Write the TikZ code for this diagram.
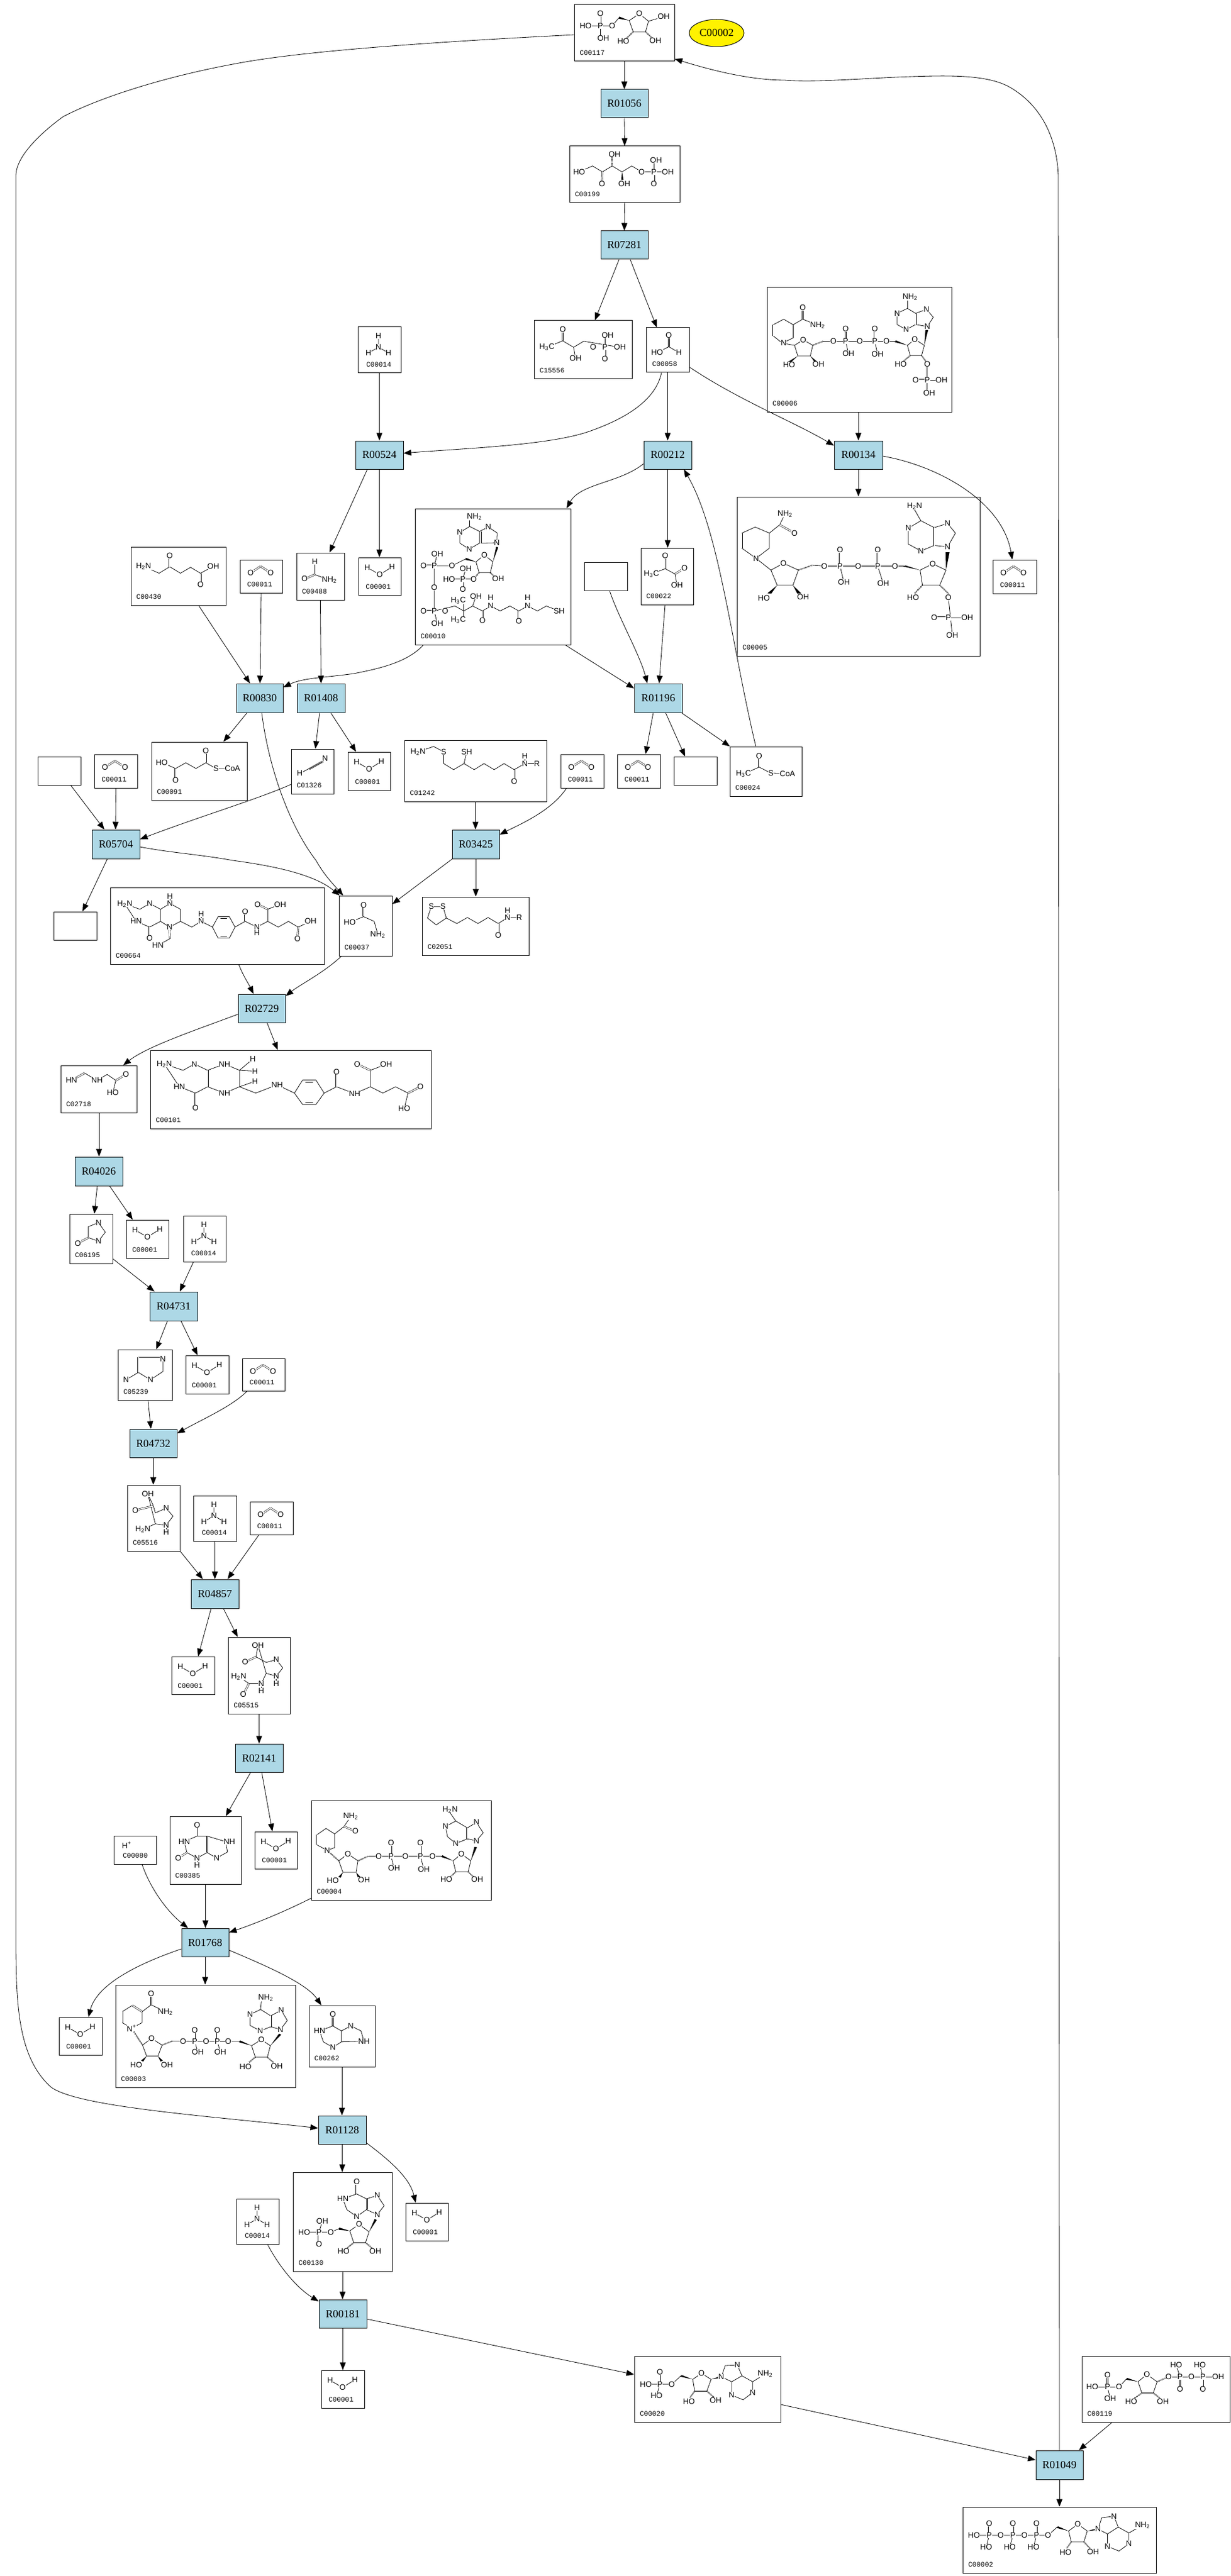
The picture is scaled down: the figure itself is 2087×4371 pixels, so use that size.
\documentclass[tikz,border=0pt]{standalone}
\usepackage{fontspec}
\setmainfont{Liberation Sans}
\newfontfamily\rxnfont{Liberation Serif}
\newfontfamily\lblfont{Liberation Mono}
\usetikzlibrary{arrows.meta,shapes.geometric}
\newcounter{atomc}
\tikzset{
  cbox/.style={draw,rectangle,inner sep=0pt,fill=white,line width=.5pt},
  rbox/.style={draw,rectangle,inner sep=0pt,fill=rxnblue,line width=.5pt,font=\rxnfont\fontsize{9.15}{10}\selectfont},
  lbl/.style={anchor=west,inner sep=0pt,font=\lblfont\fontsize{5.85}{6}\selectfont},
  atom/.style={inner sep=.15pt,fill=white,font=\fontsize{6.7}{7}\selectfont},
  bd/.style={line width=.4pt},
  db/.style={double,double distance=.9pt,line width=.3pt},
  hb/.style={line width=1.1pt,dash pattern=on .35pt off .55pt},
  ed/.style={line width=.42pt,-{Triangle[length=6.5pt,width=5pt]}},
  z7/.style={shift={(960,0)},xscale=.3333,yscale=.3333},
  z8/.style={shift={(900,480)},xscale=.4615,yscale=.3333},
  z9/.style={shift={(700,860)},xscale=.3333,yscale=.3333},
  z10/.style={shift={(220,925)},xscale=.4529,yscale=.3333},
  z11/.style={shift={(400,3686)},xscale=.3333,yscale=.3333},
  z12/.style={shift={(1076,3998)},xscale=.6472,yscale=.3333},
  z2/.style={shift={(0,730)},xscale=1.3316,yscale=.4655},
  z3/.style={shift={(0,1460)},xscale=.6378,yscale=.4655},
  z4/.style={shift={(0,2190)},xscale=.6378,yscale=.4655},
  z5/.style={shift={(0,2920)},xscale=.6378,yscale=.4655},
}
\definecolor{rxnblue}{HTML}{ADD8E6}
\def\ws{5}
\newcommand{\At}[3]{\stepcounter{atomc}\node[atom] (at\theatomc) at (#1,#2) {#3};}
\newcommand{\hs}[4]{\draw[hb] (#1,#2)--(#3,#4);}
\newcommand{\wg}[4]{%
  \pgfmathsetmacro\wgdx{#3-(#1)}\pgfmathsetmacro\wgdy{#4-(#2)}%
  \pgfmathsetmacro\wgl{veclen(\wgdx,\wgdy)}%
  \pgfmathsetmacro\wgx{-\wgdy/\wgl*\ws}\pgfmathsetmacro\wgy{\wgdx/\wgl*\ws}%
  \fill (#1,#2)--({#3+(\wgx)},{#4+(\wgy)})--({#3-(\wgx)},{#4-(\wgy)})--cycle;}
\newcommand{\cpd}[5]{%
  \pgfmathsetmacro\cpdw{#3-#1}\pgfmathsetmacro\cpdh{#4-#2}%
  \pgfmathsetmacro\cpdx{(#1+#3)/2}\pgfmathsetmacro\cpdy{(#2+#4)/2}%
  \node[cbox,minimum width=\cpdw*.5pt,minimum height=\cpdh*.5pt] (#5) at (\cpdx,\cpdy) {};}
% {pad}{printed label}{x0}{y1}{node name}
\newcommand{\clabel}[5]{%
  \pgfmathsetmacro\cpdx{#3+#1}\pgfmathsetmacro\cpdy{#4-14}%
  \node[lbl] (#5lab) at (\cpdx,\cpdy) {#2};}
% [pad]{node name}{x0}{y0}{x1}{y1}{printed label}
\newcommand{\comp}[7][9]{\cpd{#3}{#4}{#5}{#6}{#2}\clabel{#1}{#7}{#3}{#6}{#2}}
\newcommand{\rxn}[5]{%
  \pgfmathsetmacro\cpdw{#4-#2}\pgfmathsetmacro\cpdh{#5-#3}%
  \pgfmathsetmacro\cpdx{(#2+#4)/2}\pgfmathsetmacro\cpdy{(#3+#5)/2}%
  \node[rbox,minimum width=\cpdw*.5pt,minimum height=\cpdh*.5pt] (#1) at (\cpdx,\cpdy) {#1};}
\newcommand{\water}[2]{\begin{scope}[shift={(#1,#2)}]\draw[bd] (15,17)--(36,29)--(57,16);\At{15}{17}{H}\At{36}{29}{O}\At{57}{16}{H}\end{scope}}
\newcommand{\cotwo}[2]{\begin{scope}[shift={(#1,#2)}]\draw[db] (18,22)--(35,11);\draw[db] (35,11)--(52,22);\At{18}{22}{O}\At{52}{22}{O}\end{scope}}
\newcommand{\ammonia}[2]{\begin{scope}[shift={(#1,#2)}]\draw[bd] (35,15)--(35,34)--(18,44);\draw[bd] (35,34)--(52,44);\At{35}{15}{H}\At{35}{34}{N}\At{18}{44}{H}\At{52}{44}{H}\end{scope}}
\begin{document}
\begin{tikzpicture}[x=.5pt,y=-.5pt]
\useasboundingbox (0,0) rectangle (2087,4371);
\fill[white] (0,0) rectangle (2087,4371);
% ---------- boxes
\comp{C00117}{974}{8}{1144}{104}{C00117}
\node[draw,ellipse,fill=yellow,inner sep=0pt,line width=.5pt,minimum width=46.5pt,minimum height=23pt,font=\rxnfont\fontsize{9.15}{10}\selectfont] (Cyel) at (1215.5,56) {C00002};
\rxn{R01056}{1019}{152}{1099}{200}
\comp{C00199}{966}{248}{1153}{344}{C00199}
\rxn{R07281}{1019}{392}{1099}{440}
\comp{C15556}{906}{544}{1072}{643}{C15556}
\comp[10]{C00058}{1096}{556}{1169}{632}{C00058}
\comp[14]{C00014a}{607}{555}{680}{633}{C00014}
\comp{C00006}{1301}{488}{1614}{699}{C00006}
\rxn{R00524}{603}{748}{684}{796}
\rxn{R00212}{1092}{748}{1173}{796}
\rxn{R00134}{1415}{748}{1497}{796}
\comp{C00005}{1250}{843}{1662}{1113}{C00005}
\comp[12]{C00011a}{1684}{950}{1758}{1007}{C00011}
\comp{C00010}{704}{863}{968}{1094}{C00010}
\comp{C00022}{1087}{930}{1176}{1026}{C00022}
\node[cbox,minimum width=36.5pt,minimum height=24pt] (Ea) at (1027.5,978) {};
\comp{C00430}{222}{928}{383}{1027}{C00430}
\comp[12]{C00011b}{407}{950}{479}{1006}{C00011}
\comp{C00488}{503}{938}{584}{1018}{C00488}
\comp[12]{C00001a}{608}{946}{680}{1010}{C00001}
\rxn{R00830}{401}{1160}{480}{1209}
\rxn{R01408}{504}{1160}{585}{1209}
\rxn{R01196}{1076}{1160}{1157}{1209}
\comp{C00091}{257}{1259}{419}{1358}{C00091}
\comp{C01326}{494}{1271}{566}{1347}{C01326}
\comp[12]{C00001b}{590}{1276}{662}{1341}{C00001}
\comp{C01242}{686}{1256}{927}{1360}{C01242}
\comp[12]{C00011c}{951}{1280}{1024}{1337}{C00011}
\comp[12]{C00011d}{1047}{1280}{1120}{1337}{C00011}
\node[cbox,minimum width=36.5pt,minimum height=24pt] (Eb) at (1179.5,1308) {};
\comp{C00024}{1238}{1267}{1360}{1351}{C00024}
\node[cbox,minimum width=36.5pt,minimum height=24pt] (Ec) at (100.5,1308) {};
\comp[12]{C00011e}{160}{1280}{233}{1337}{C00011}
\rxn{R05704}{156}{1408}{237}{1457}
\rxn{R03425}{767}{1408}{847}{1457}
\node[cbox,minimum width=36.5pt,minimum height=24pt] (Ed) at (127.5,1571) {};
\comp{C00664}{187}{1506}{550}{1636}{C00664}
\comp{C00037}{575}{1520}{665}{1622}{C00037}
\comp{C02051}{716}{1522}{897}{1621}{C02051}
\rxn{R02729}{404}{1687}{484}{1735}
\comp{C02718}{103}{1808}{232}{1888}{C02718}
\comp{C00101}{255}{1782}{731}{1915}{C00101}
\rxn{R04026}{127}{1963}{208}{2012}
\comp{C06195}{118}{2060}{191}{2144}{C06195}
\comp[10]{C00001c}{214}{2070}{286}{2135}{C00001}
\comp[13]{C00014b}{311}{2063}{383}{2141}{C00014}
\rxn{R04731}{254}{2192}{335}{2241}
\comp{C05239}{200}{2290}{292}{2376}{C05239}
\comp[10]{C00001d}{315}{2300}{388}{2365}{C00001}
\comp[12]{C00011f}{411}{2305}{483}{2360}{C00011}
\rxn{R04732}{220}{2425}{300}{2473}
\comp{C05516}{216}{2520}{305}{2632}{C05516}
\comp[14]{C00014c}{328}{2538}{401}{2615}{C00014}
\comp[12]{C00011g}{424}{2548}{497}{2604}{C00011}
\rxn{R04857}{324}{2680}{405}{2729}
\comp[10]{C00001e}{291}{2811}{364}{2875}{C00001}
\comp{C05515}{387}{2778}{492}{2908}{C05515}
\rxn{R02141}{399}{2959}{480}{3007}
\comp{C00385}{288}{3082}{409}{3197}{C00385}
\comp[12]{C00001f}{432}{3108}{504}{3171}{C00001}
\comp{C00004}{528}{3055}{833}{3224}{C00004}
\comp[15]{C00080}{193}{3115}{265}{3163}{C00080}
\rxn{R01768}{308}{3272}{388}{3320}
\comp[12]{C00001g}{100}{3423}{173}{3487}{C00001}
\comp{C00003}{196}{3368}{501}{3542}{C00003}
\comp{C00262}{524}{3403}{636}{3507}{C00262}
\rxn{R01128}{540}{3590}{621}{3638}
\comp{C00130}{497}{3686}{665}{3854}{C00130}
\comp[14]{C00014d}{401}{3731}{473}{3808}{C00014}
\comp[12]{C00001h}{688}{3738}{760}{3802}{C00001}
\rxn{R00181}{541}{3902}{622}{3950}
\comp[12]{C00001i}{545}{4022}{618}{4086}{C00001}
\comp{C00020}{1076}{3998}{1324}{4110}{C00020}
\comp{C00119}{1835}{3998}{2086}{4110}{C00119}
\rxn{R01049}{1757}{4158}{1837}{4207}
\comp{C00002}{1633}{4254}{1961}{4366}{C00002}
% ---------- small repeated molecules
\ammonia{607}{555}\ammonia{311}{2063}\ammonia{328}{2538}\ammonia{401}{3731}
\water{608}{946}\water{590}{1276}\water{214}{2070}\water{315}{2300}\water{291}{2811}\water{432}{3108}\water{100}{3423}\water{688}{3738}\water{545}{4022}
\cotwo{1684}{950}\cotwo{407}{950}\cotwo{951}{1280}\cotwo{1047}{1280}\cotwo{160}{1280}\cotwo{411}{2305}\cotwo{424}{2548}
% ---------- C00117, C00199
\begin{scope}[z7]\def\ws{5.5}
\draw[bd] (100,132)--(235,132)--(270,90);\draw[db] (175,132)--(175,70);\draw[bd] (175,132)--(175,195);
\wg{322}{105}{270}{90}
\draw[bd] (322,105)--(373,70)--(420,108)--(405,162)--(342,162)--cycle;\draw[bd] (420,108)--(497,85);
\hs{342}{162}{295}{208}\hs{405}{162}{450}{205}
\At{100}{132}{HO}\At{175}{132}{P}\At{235}{132}{O}\At{175}{70}{O}\At{190}{195}{OH}\At{373}{70}{O}\At{497}{85}{OH}\At{292}{210}{HO}\At{455}{207}{OH}
\draw[bd] (67,875)--(135,845)--(185,875)--(235,845)--(285,875)--(335,845)--(385,875)--(518,875);\draw[db] (185,875)--(183,935);\draw[db] (447,875)--(447,935);\draw[bd] (447,875)--(447,815);
\hs{235}{845}{235}{800}\wg{285}{875}{287}{915}
\At{67}{875}{HO}\At{183}{935}{O}\At{247}{785}{OH}\At{297}{935}{OH}\At{385}{875}{O}\At{447}{875}{P}\At{458}{815}{OH}\At{518}{875}{OH}\At{447}{935}{O}
\end{scope}
% ---------- C15556, C00058, C00006
\begin{scope}[z8]\def\ws{5}
\draw[bd] (60,328)--(118,295)--(158,328)--(195,297)--(328,328);\draw[db] (118,295)--(118,238);\draw[bd] (158,328)--(165,385);\draw[bd] (273,328)--(273,268);\draw[db] (273,328)--(273,388);
\At{60}{328}{H\textsubscript{3}C}\At{118}{238}{O}\At{165}{385}{OH}\At{230}{328}{O}\At{273}{328}{P}\At{283}{268}{OH}\At{328}{328}{OH}\At{273}{388}{O}
\draw[db] (508,268)--(508,325);\draw[bd] (465,355)--(508,325)--(545,355);\At{508}{268}{O}\At{465}{355}{HO}\At{545}{355}{H}
% C00006
\draw[bd] (930,185)--(965,213)--(965,280)--(925,307)--(892,270)--(892,213)--cycle;\draw[db] (892,270)--(892,213);\draw[bd] (965,213)--(1000,185)--(1055,215);\draw[db] (1000,185)--(1000,125);
\draw[bd] (1002,290)--(970,318)--(982,372)--(1028,372)--(1037,318)--cycle;\draw[bd] (925,307)--(970,318);
\wg{982}{372}{950}{405}\wg{1028}{372}{1050}{405}\hs{1037}{318}{1075}{297}
\draw[bd] (1075,297)--(1340,297);\draw[db] (1158,297)--(1158,235);\draw[db] (1265,297)--(1265,235);\draw[bd] (1158,297)--(1168,360);\draw[bd] (1265,297)--(1275,362);
\wg{1385}{318}{1340}{297}
\draw[bd] (1412,287)--(1447,318)--(1437,370)--(1395,370)--(1385,318)--cycle;\hs{1395}{370}{1365}{405}\hs{1437}{370}{1458}{410}
\draw[bd] (1458,415)--(1458,560);\draw[db] (1415,495)--(1458,495);\draw[bd] (1458,495)--(1510,495);
\wg{1447}{318}{1456}{240}
\draw[bd] (1458,222)--(1480,175)--(1455,135)--(1415,155)--(1415,212)--cycle;\draw[bd] (1415,212)--(1380,238)--(1347,212)--(1347,155)--(1385,130)--(1415,155);\draw[db] (1415,155)--(1415,212);\draw[bd] (1385,130)--(1385,72);
\At{930}{307}{N}\At{1000}{125}{O}\At{1055}{215}{NH\textsubscript{2}}\At{1002}{290}{O}\At{950}{418}{HO}\At{1058}{415}{OH}\At{1113}{297}{O}\At{1158}{297}{P}\At{1158}{235}{O}\At{1168}{360}{OH}\At{1210}{297}{O}\At{1265}{297}{P}\At{1265}{235}{O}\At{1275}{362}{OH}\At{1308}{297}{O}\At{1412}{287}{O}\At{1360}{415}{HO}\At{1458}{415}{O}\At{1458}{495}{P}\At{1415}{495}{O}\At{1510}{495}{OH}\At{1465}{560}{OH}\At{1458}{222}{N}\At{1455}{135}{N}\At{1380}{238}{N}\At{1347}{155}{N}\At{1395}{72}{NH\textsubscript{2}}
\end{scope}
% ---------- C00010, C00022
\begin{scope}[z9]\def\ws{5.5}
\draw[bd] (290,100)--(290,65);
\draw[bd] (290,100)--(240,130)--(240,185)--(288,215)--(340,185)--(340,125)--cycle;\draw[bd] (340,125)--(385,103)--(430,133)--(428,183)--(340,185);\draw[db] (345,125)--(345,185);
\wg{408}{280}{430}{205}
\draw[bd] (365,245)--(408,280)--(395,335)--(338,335)--(322,280)--cycle;\wg{322}{280}{270}{265}\draw[bd] (270,265)--(200,300)--(110,300)--(110,530)--(215,505)--(260,530)--(305,505)--(355,530)--(397,505)--(445,530)--(495,505)--(540,530)--(585,505)--(635,530)--(680,505)--(745,530);
\draw[db] (55,300)--(110,300);\draw[db] (55,530)--(110,530);\draw[bd] (110,300)--(125,240);\draw[bd] (110,530)--(125,595);
\draw[bd] (260,530)--(260,490);\draw[bd] (260,530)--(260,560);\draw[bd] (305,505)--(322,455);\draw[db] (355,530)--(355,580);\draw[db] (540,530)--(540,582);
\hs{338}{335}{310}{368}\hs{395}{335}{420}{360}\draw[bd] (310,368)--(185,368);\draw[bd] (255,368)--(270,315);\draw[db] (255,368)--(255,420);
\At{315}{52}{NH\textsubscript{2}}\At{240}{130}{N}\At{288}{215}{N}\At{385}{103}{N}\At{428}{183}{N}\At{365}{245}{O}\At{200}{300}{O}\At{110}{300}{P}\At{55}{300}{O}\At{125}{240}{OH}\At{110}{412}{O}\At{110}{530}{P}\At{55}{530}{O}\At{125}{595}{OH}\At{165}{530}{O}\At{232}{477}{H\textsubscript{3}C}\At{232}{575}{H\textsubscript{3}C}\At{322}{455}{OH}\At{355}{580}{O}\At{397}{505}{N}\At{397}{462}{H}\At{540}{582}{O}\At{585}{505}{N}\At{585}{462}{H}\At{745}{530}{SH}\At{310}{368}{O}\At{255}{368}{P}\At{185}{368}{HO}\At{270}{315}{OH}\At{255}{420}{O}\At{435}{367}{OH}
\draw[db] (1285,250)--(1285,315);\draw[bd] (1215,342)--(1285,315)--(1335,342)--(1345,398);\draw[db] (1335,342)--(1383,312);
\At{1285}{250}{O}\At{1215}{342}{H\textsubscript{3}C}\At{1383}{312}{O}\At{1345}{398}{OH}
\end{scope}
% ---------- C00430, C00488, C00091, C01326, C01242
\begin{scope}[z10]\def\ws{5}
\draw[bd] (52,108)--(110,143)--(150,110)--(190,143)--(228,113)--(265,143)--(313,108);\draw[db] (150,110)--(150,55);\draw[db] (265,143)--(265,202);
\At{52}{108}{H\textsubscript{2}N}\At{150}{55}{O}\At{313}{108}{OH}\At{265}{202}{O}
\draw[bd] (693,85)--(693,150)--(748,177);\draw[db] (693,150)--(655,172);\At{693}{85}{H}\At{655}{172}{O}\At{748}{177}{NH\textsubscript{2}}
\draw[bd] (120,1107)--(172,1137)--(210,1108)--(248,1137)--(285,1108)--(323,1137)--(385,1137);\draw[db] (172,1137)--(172,1197);\draw[db] (285,1108)--(285,1048);
\At{120}{1107}{HO}\At{172}{1197}{O}\At{285}{1048}{O}\At{323}{1137}{S}\At{385}{1137}{CoA}
\draw[bd] (637,1162)--(680,1132);\draw[db] (672,1140)--(725,1100);\draw[bd] (672,1140)--(725,1100);
\At{637}{1162}{H}\At{732}{1087}{N}
\draw[bd] (1080,1052)--(1138,1025)--(1176,1052)--(1176,1112)--(1213,1143)--(1252,1112)--(1290,1143)--(1327,1112)--(1365,1143)--(1402,1112)--(1440,1143)--(1480,1112)--(1525,1112);\draw[bd] (1252,1112)--(1262,1052);\draw[db] (1440,1143)--(1440,1202);\draw[bd] (1480,1112)--(1480,1075);
\At{1080}{1052}{H\textsubscript{2}N}\At{1176}{1052}{S}\At{1262}{1052}{SH}\At{1440}{1202}{O}\At{1480}{1112}{N}\At{1480}{1075}{H}\At{1525}{1112}{R}
\end{scope}
% ---------- C00005, C00024
\begin{scope}[z2]\def\ws{2.5}
\draw[bd] (962,353)--(980,375)--(980,430)--(963,467)--(945,430)--(945,375)--cycle;\draw[db] (945,375)--(945,430);\draw[bd] (980,375)--(993,345)--(1000,305);\draw[db] (993,345)--(1012,375);
\draw[bd] (998,485)--(982,510)--(990,565)--(1010,565)--(1017,510)--cycle;\draw[bd] (963,467)--(982,510);\wg{990}{565}{980}{595}\wg{1010}{565}{1018}{595}\hs{1017}{510}{1035}{492}
\draw[bd] (1035,492)--(1050,495)--(1152,495);\draw[db] (1070,495)--(1070,435);\draw[db] (1118,495)--(1118,435);\draw[bd] (1070,495)--(1075,555);\draw[bd] (1118,495)--(1125,558);\wg{1172}{510}{1152}{495}
\draw[bd] (1188,487)--(1205,510)--(1197,565)--(1175,565)--(1172,510)--cycle;\hs{1175}{565}{1165}{595}\hs{1197}{565}{1208}{595}
\draw[bd] (1208,610)--(1213,747);\draw[db] (1190,683)--(1208,683);\draw[bd] (1208,683)--(1232,683);\wg{1205}{510}{1207}{445}
\draw[bd] (1207,425)--(1217,375)--(1207,340)--(1190,355)--(1190,420)--cycle;\draw[bd] (1190,420)--(1173,440)--(1157,415)--(1157,357)--(1173,330)--(1190,355);\draw[db] (1190,355)--(1190,420);\draw[bd] (1173,330)--(1165,290);
\At{963}{467}{N}\At{1000}{305}{NH\textsubscript{2}}\At{1012}{375}{O}\At{998}{485}{O}\At{973}{612}{HO}\At{1023}{608}{OH}\At{1050}{495}{O}\At{1070}{495}{P}\At{1070}{435}{O}\At{1075}{555}{OH}\At{1093}{495}{O}\At{1118}{495}{P}\At{1118}{435}{O}\At{1125}{558}{OH}\At{1140}{495}{O}\At{1188}{487}{O}\At{1163}{610}{HO}\At{1208}{610}{O}\At{1208}{683}{P}\At{1190}{683}{O}\At{1232}{683}{OH}\At{1213}{747}{OH}\At{1207}{425}{N}\At{1207}{340}{N}\At{1173}{440}{N}\At{1157}{357}{N}\At{1165}{277}{H\textsubscript{2}N}
\draw[db] (967,1187)--(967,1228);\draw[bd] (948,1252)--(967,1228)--(982,1250)--(1003,1252);
\At{967}{1187}{O}\At{947}{1252}{H\textsubscript{3}C}\At{982}{1250}{S}\At{1003}{1252}{CoA}
\end{scope}
% ---------- C00664, C00037, C02051, C02718, C00101, C06195
\begin{scope}[z3]\def\ws{3.5}
\draw[bd] (332,158)--(372,178)--(398,157)--(427,178)--(427,222)--(398,243)--(362,222)--cycle;
\draw[bd] (427,178)--(452,157)--(480,178)--(480,222)--(451,243)--(427,222);\draw[bd] (452,157)--(452,130);\draw[db] (451,243)--(452,285);\draw[bd] (452,285)--(420,310);
\draw[bd] (480,222)--(510,243)--(535,222)--(565,243);\draw[bd] (535,222)--(535,195);
\draw[bd] (565,243)--(580,205)--(610,205)--(625,243)--(610,283)--(580,283)--cycle;\draw[bd] (587,212)--(603,212);\draw[bd] (587,276)--(603,276);
\draw[bd] (625,243)--(652,222)--(683,243)--(712,222)--(740,243)--(767,222)--(793,243)--(826,222);\draw[db] (652,222)--(652,187);\draw[bd] (683,243)--(683,265);\draw[bd] (712,222)--(712,178)--(745,160);\draw[db] (712,178)--(685,160);\draw[db] (793,243)--(791,285);\draw[db] (398,243)--(398,283);
\At{332}{158}{H\textsubscript{2}N}\At{398}{157}{N}\At{362}{222}{HN}\At{398}{283}{O}\At{452}{157}{N}\At{452}{130}{H}\At{451}{243}{N}\At{420}{310}{HN}\At{535}{222}{N}\At{535}{195}{H}\At{652}{187}{O}\At{683}{243}{N}\At{683}{265}{H}\At{685}{160}{O}\At{745}{160}{OH}\At{826}{222}{OH}\At{791}{285}{O}
\draw[db] (967,162)--(967,205);\draw[bd] (930,225)--(967,205)--(995,222)--(1005,270);\At{967}{162}{O}\At{930}{225}{HO}\At{1005}{270}{NH\textsubscript{2}}
\draw[bd] (1147,168)--(1178,168)--(1187,210)--(1160,235)--(1137,210)--cycle;\draw[bd] (1187,210)--(1215,230)--(1243,208)--(1271,230)--(1298,208)--(1325,230)--(1350,208)--(1381,208);\draw[db] (1325,230)--(1325,272);\draw[bd] (1350,208)--(1350,182);
\At{1147}{168}{S}\At{1178}{168}{S}\At{1325}{272}{O}\At{1350}{208}{N}\At{1350}{182}{H}\At{1381}{208}{R}
\draw[db] (190,802)--(225,775);\draw[bd] (225,775)--(258,802)--(285,780)--(308,802)--(300,846);\draw[db] (308,802)--(335,780);
\At{190}{802}{HN}\At{258}{802}{NH}\At{335}{780}{O}\At{300}{846}{HO}
% C00101
\draw[bd] (437,742)--(487,765)--(517,742)--(552,765)--(552,825)--(520,848)--(477,825)--cycle;\draw[db] (552,765)--(552,825);\draw[db] (520,848)--(520,903);
\draw[bd] (552,765)--(597,742)--(637,765)--(637,825)--(597,848)--(552,825);\draw[bd] (637,765)--(672,724);\draw[bd] (637,765)--(678,768);\draw[bd] (637,825)--(678,805);
\draw[bd] (637,825)--(680,848)--(737,818)--(783,848);
\draw[bd] (783,848)--(805,800)--(840,800)--(862,848)--(840,890)--(805,890)--cycle;\draw[bd] (812,808)--(833,808);\draw[bd] (812,882)--(833,882);
\draw[bd] (862,848)--(895,825)--(943,850)--(985,825)--(1018,848)--(1052,825)--(1085,848)--(1075,905);\draw[db] (895,825)--(895,770);\draw[bd] (985,825)--(985,765)--(1027,743);\draw[db] (985,765)--(950,743);\draw[db] (1085,848)--(1118,825);
\At{437}{742}{H\textsubscript{2}N}\At{517}{742}{N}\At{477}{825}{HN}\At{520}{903}{O}\At{597}{742}{NH}\At{597}{848}{NH}\At{672}{724}{H}\At{678}{768}{H}\At{678}{805}{H}\At{737}{818}{NH}\At{895}{770}{O}\At{943}{850}{NH}\At{950}{743}{O}\At{1027}{743}{OH}\At{1118}{825}{O}\At{1075}{905}{HO}
% C06195
\draw[bd] (235,1335)--(262,1320)--(280,1355)--(262,1388)--(235,1375)--cycle;\draw[db] (235,1375)--(207,1395);
\At{262}{1320}{N}\At{262}{1388}{N}\At{207}{1395}{O}
\end{scope}
% ---------- C05239, C05516, C05515
\begin{scope}[z4]\def\ws{3.5}
\draw[bd] (368,243)--(433,243)--(433,295)--(400,325)--(368,298)--cycle;\draw[db] (368,243)--(368,298);\draw[bd] (368,298)--(335,325);
\At{433}{248}{N}\At{400}{325}{N}\At{335}{325}{N}
\draw[bd] (393,740)--(408,785)--(413,810)--(442,793)--(460,822)--(442,855)--(413,850)--cycle;\draw[db] (408,785)--(360,800);\draw[bd] (413,850)--(380,870);\draw[bd] (442,855)--(442,880);
\At{393}{740}{OH}\At{360}{800}{O}\At{442}{793}{N}\At{442}{855}{N}\At{442}{880}{H}\At{380}{870}{H\textsubscript{2}N}
\draw[bd] (686,1292)--(681,1335)--(708,1355)--(735,1345)--(752,1375)--(735,1405)--(708,1395)--cycle;\draw[db] (681,1335)--(652,1353);\draw[bd] (708,1395)--(695,1432)--(662,1432)--(635,1407);\draw[db] (662,1432)--(647,1472);\draw[bd] (735,1405)--(735,1432);\draw[bd] (695,1432)--(695,1458);
\At{686}{1292}{OH}\At{652}{1353}{O}\At{735}{1345}{N}\At{735}{1405}{N}\At{735}{1432}{H}\At{695}{1432}{N}\At{695}{1458}{H}\At{647}{1472}{O}\At{635}{1407}{H\textsubscript{2}N}
\end{scope}
% ---------- C00385, C00080, C00004, C00003, C00262
\begin{scope}[z5]\def\ws{3.5}
\draw[db] (524,380)--(524,420);\draw[bd] (524,420)--(490,440)--(497,480)--(524,500)--(551,480)--(551,420)--cycle;\draw[db] (551,420)--(551,480);\draw[db] (497,480)--(474,500);\draw[bd] (551,420)--(600,440)--(605,478)--(576,500)--(551,480);\draw[bd] (524,500)--(524,527);
\At{524}{380}{O}\At{490}{440}{HN}\At{474}{500}{O}\At{524}{500}{N}\At{524}{527}{H}\At{610}{440}{NH}\At{576}{500}{N}
\At{337}{453}{H\textsuperscript{+}}
% C00004
\draw[bd] (890,412)--(890,462)--(870,472)--(843,452)--(843,415)--(867,392)--cycle;\draw[db] (843,415)--(843,452);\draw[bd] (890,412)--(915,385)--(933,348);\draw[db] (915,385)--(945,402);
\draw[bd] (925,485)--(901,510)--(912,552)--(947,552)--(952,510)--cycle;\hs{870}{472}{901}{510}\wg{912}{552}{903}{570}\wg{947}{552}{955}{570}\hs{952}{510}{980}{493}
\draw[bd] (980,493)--(1175,493);\draw[db] (1040,493)--(1040,445);\draw[db] (1118,493)--(1118,445);\draw[bd] (1040,493)--(1048,537);\draw[bd] (1118,493)--(1127,540);\wg{1205}{510}{1175}{493}
\draw[bd] (1227,485)--(1252,510)--(1245,550)--(1212,550)--(1205,510)--cycle;\hs{1212}{550}{1197}{570}\hs{1245}{550}{1260}{570}\wg{1252}{510}{1265}{460}
\draw[bd] (1267,437)--(1285,408)--(1267,370)--(1243,390)--(1243,430)--cycle;\draw[bd] (1243,430)--(1212,447)--(1190,422)--(1185,385)--(1212,365)--(1243,390);\draw[db] (1243,390)--(1243,430);\draw[bd] (1212,365)--(1197,335);
\At{870}{472}{N}\At{933}{348}{NH\textsubscript{2}}\At{945}{402}{O}\At{925}{485}{O}\At{885}{582}{HO}\At{968}{580}{OH}\At{1007}{493}{O}\At{1040}{493}{P}\At{1040}{445}{O}\At{1048}{537}{OH}\At{1078}{493}{O}\At{1118}{493}{P}\At{1118}{445}{O}\At{1127}{540}{OH}\At{1150}{493}{O}\At{1227}{485}{O}\At{1187}{578}{HO}\At{1269}{578}{OH}\At{1267}{437}{N}\At{1267}{370}{N}\At{1212}{447}{N}\At{1185}{385}{N}\At{1197}{323}{H\textsubscript{2}N}
% C00003
\draw[bd] (350,1120)--(325,1100)--(325,1060)--(352,1037)--(378,1060)--(378,1100)--cycle;\draw[db] (325,1100)--(325,1060);\draw[db] (352,1037)--(378,1060);\draw[bd] (378,1060)--(402,1035)--(440,1060);\draw[db] (402,1035)--(402,995);
\draw[bd] (403,1157)--(379,1182)--(390,1222)--(420,1222)--(431,1182)--cycle;\hs{350}{1120}{379}{1182}\wg{390}{1222}{378}{1240}\wg{420}{1222}{430}{1240}\hs{431}{1182}{458}{1167}
\draw[bd] (458,1167)--(637,1168);\draw[db] (518,1168)--(518,1128);\draw[db] (578,1168)--(578,1128);\draw[bd] (518,1168)--(526,1208);\draw[bd] (578,1168)--(586,1208);\wg{669}{1184}{637}{1168}
\draw[bd] (695,1162)--(719,1184)--(711,1226)--(679,1226)--(669,1184)--cycle;\hs{679}{1226}{662}{1245}\hs{711}{1226}{727}{1245}\wg{719}{1184}{745}{1142}
\draw[bd] (746,1125)--(764,1092)--(748,1055)--(720,1075)--(720,1115)--cycle;\draw[bd] (720,1115)--(692,1130)--(665,1110)--(665,1070)--(693,1052)--(720,1075);\draw[db] (720,1075)--(720,1115);\draw[bd] (693,1052)--(695,1022);
\At{350}{1120}{N\textsuperscript{+}}\At{402}{995}{O}\At{440}{1060}{NH\textsubscript{2}}\At{403}{1157}{O}\At{362}{1254}{HO}\At{444}{1254}{OH}\At{487}{1168}{O}\At{518}{1168}{P}\At{518}{1128}{O}\At{526}{1208}{OH}\At{548}{1168}{O}\At{578}{1168}{P}\At{578}{1128}{O}\At{586}{1208}{OH}\At{607}{1168}{O}\At{695}{1162}{O}\At{653}{1260}{HO}\At{736}{1258}{OH}\At{746}{1125}{N}\At{748}{1055}{N}\At{692}{1130}{N}\At{665}{1070}{N}\At{707}{1010}{NH\textsubscript{2}}
% C00262
\draw[db] (885,1070)--(885,1112);\draw[bd] (885,1112)--(850,1130)--(860,1170)--(885,1190)--(908,1170)--(908,1130)--cycle;\draw[bd] (908,1130)--(933,1112)--(960,1130)--(968,1168)--(908,1170);
\At{885}{1070}{O}\At{850}{1130}{HN}\At{885}{1190}{N}\At{933}{1112}{N}\At{968}{1168}{NH}
\end{scope}
% ---------- C00130
\begin{scope}[z11]\def\ws{6}
\draw[db] (615,48)--(615,110);\draw[bd] (615,110)--(545,135)--(565,190)--(615,225)--(665,190)--(665,135)--cycle;\draw[db] (675,135)--(675,190);\draw[bd] (665,135)--(720,118)--(755,170)--(720,215)--(665,190);
\wg{678}{303}{712}{240}
\draw[bd] (627,265)--(580,298)--(600,358)--(660,358)--(678,303)--cycle;\hs{600}{358}{555}{395}\hs{660}{358}{700}{392}\wg{580}{298}{525}{287}
\draw[bd] (525,287)--(483,305)--(348,305);\draw[bd] (423,305)--(440,250);\draw[db] (423,305)--(423,365);
\At{615}{48}{O}\At{545}{135}{HN}\At{615}{225}{N}\At{720}{118}{N}\At{720}{215}{N}\At{627}{265}{O}\At{548}{402}{HO}\At{710}{402}{OH}\At{483}{305}{O}\At{423}{305}{P}\At{348}{305}{HO}\At{440}{250}{OH}\At{423}{365}{O}
\end{scope}
% ---------- C00020, C00119, C00002
\begin{scope}[z12]\def\ws{4.5}
\draw[bd] (30,143)--(98,143)--(122,100);\draw[db] (67,143)--(67,80);\draw[bd] (67,143)--(58,202);\wg{153}{118}{122}{100}
\draw[bd] (176,87)--(201,118)--(190,178)--(158,178)--(153,118)--cycle;\hs{158}{178}{145}{212}\hs{190}{178}{208}{208}\wg{201}{118}{228}{105}
\draw[bd] (228,105)--(238,48)--(270,45)--(282,100)--(255,130)--cycle;\draw[bd] (255,130)--(255,198)--(285,222)--(310,185)--(310,130)--(282,100);\draw[bd] (310,130)--(343,90);
\At{30}{143}{HO}\At{67}{143}{P}\At{67}{80}{O}\At{58}{202}{HO}\At{98}{143}{O}\At{176}{87}{O}\At{143}{232}{HO}\At{213}{225}{OH}\At{228}{105}{N}\At{270}{45}{N}\At{255}{198}{N}\At{310}{185}{N}\At{343}{90}{NH\textsubscript{2}}
% C00119
\draw[bd] (1200,157)--(1270,157)--(1290,115);\draw[db] (1240,157)--(1240,95);\draw[bd] (1240,157)--(1247,215);\wg{1320}{130}{1290}{115}
\draw[bd] (1343,93)--(1370,130)--(1360,187)--(1330,187)--(1320,130)--cycle;\hs{1330}{187}{1310}{215}\hs{1360}{187}{1378}{215}\hs{1370}{130}{1400}{105}
\draw[bd] (1400,105)--(1530,105);\draw[bd] (1430,105)--(1420,45);\draw[db] (1430,105)--(1430,167);\draw[bd] (1490,105)--(1482,45);\draw[db] (1490,105)--(1490,167);
\At{1200}{157}{HO}\At{1240}{157}{P}\At{1240}{95}{O}\At{1247}{215}{OH}\At{1270}{157}{O}\At{1343}{93}{O}\At{1302}{232}{HO}\At{1385}{232}{OH}\At{1400}{105}{O}\At{1430}{105}{P}\At{1420}{45}{HO}\At{1430}{167}{O}\At{1460}{105}{O}\At{1490}{105}{P}\At{1482}{45}{HO}\At{1490}{167}{O}\At{1530}{105}{OH}
% C00002
\draw[bd] (890,912)--(1084,912)--(1108,870);\draw[db] (930,912)--(930,852);\draw[db] (992,912)--(992,852);\draw[db] (1054,912)--(1054,852);\draw[bd] (930,912)--(922,972);\draw[bd] (992,912)--(984,972);\draw[bd] (1054,912)--(1046,972);\wg{1138}{890}{1108}{870}
\draw[bd] (1162,855)--(1187,890)--(1178,945)--(1145,945)--(1138,890)--cycle;\hs{1145}{945}{1132}{980}\hs{1178}{945}{1195}{980}\wg{1187}{890}{1215}{880}
\draw[bd] (1215,880)--(1225,822)--(1257,815)--(1268,870)--(1240,905)--cycle;\draw[bd] (1240,905)--(1240,968)--(1270,992)--(1296,955)--(1296,900)--(1268,870);\draw[bd] (1296,900)--(1332,860);
\At{890}{912}{HO}\At{930}{912}{P}\At{930}{852}{O}\At{922}{972}{HO}\At{960}{912}{O}\At{992}{912}{P}\At{992}{852}{O}\At{984}{972}{HO}\At{1022}{912}{O}\At{1054}{912}{P}\At{1054}{852}{O}\At{1046}{972}{HO}\At{1084}{912}{O}\At{1162}{855}{O}\At{1130}{1000}{HO}\At{1202}{997}{OH}\At{1215}{880}{N}\At{1257}{815}{N}\At{1240}{968}{N}\At{1296}{955}{N}\At{1332}{860}{NH\textsubscript{2}}
\end{scope}
% ---------- connectors
\draw[ed] (C00117.south) -- (R01056.north);
\draw[ed] (R01056.south) -- (C00199.north);
\draw[ed] (C00199.south) -- (R07281.north);
\draw[ed] (R07281.south -| 1050,0) -- (C15556.north -| 1009,0);
\draw[ed] (R07281.south -| 1069,0) -- (C00058.north -| 1114,0);
\draw[ed] (C00058.south -| 1122,0) .. controls (1112,680) and (1060,710) .. (1005,730) .. controls (940,755) and (800,760) .. (R00524.east |- 0,769);
\draw[ed] (C00058.south) -- (R00212.north);
\draw[ed] (C00058.east |- 0,623) .. controls (1255,680) and (1345,715) .. (R00134.west |- 0,756);
\draw[ed] (C00014a.south) -- (R00524.north);
\draw[ed] (C00006.south -| R00134.north) -- (R00134.north);
\draw[ed] (R00134.south) -- (C00005.north -| R00134.south);
\draw[ed] (R00134.east |- 0,774) .. controls (1590,790) and (1700,850) .. (C00011a.north -| 1717,0);
\draw[ed] (R00524.south -| 623,0) -- (C00488.north -| 559,0);
\draw[ed] (R00524.south) -- (C00001a.north -| R00524.south);
\draw[ed] (R00212.west |- 0,787) .. controls (1050,820) and (985,820) .. (C00010.north -| 961,0);
\draw[ed] (R00212.south) -- (C00022.north -| R00212.south);
\draw[ed] (C00024.north -| 1282,0) .. controls (1240,1090) and (1220,900) .. (R00212.south -| 1160,0);
\draw[ed] (C00430.south -| 337,0) -- (R00830.north -| 424,0);
\draw[ed] (C00011b.south) -- (R00830.north -| 441,0);
\draw[ed] (C00488.south) -- (R01408.north);
\draw[ed] (C00010.south -| 718,0) .. controls (690,1125) and (640,1135) .. (600,1143) .. controls (550,1150) and (515,1150) .. (R00830.east |- 0,1166);
\draw[ed] (C00010.south -| 959,0) -- (R01196.west |- 0,1168);
\draw[ed] (Ea.south -| 1034,0) .. controls (1050,1050) and (1085,1110) .. (R01196.north -| 1098,0);
\draw[ed] (C00022.south -| 1128,0) -- (R01196.north -| 1118,0);
\draw[ed] (R00830.south -| 419,0) -- (C00091.north -| 379,0);
\draw[ed] (R00830.south -| 444,0) .. controls (455,1300) and (490,1400) .. (536,1460) .. controls (550,1485) and (565,1500) .. (C00037.north -| 582,0);
\draw[ed] (R01408.south -| 542,0) -- (C01326.north -| 535,0);
\draw[ed] (R01408.south -| 561,0) -- (C00001b.north -| 604,0);
\draw[ed] (R01196.south -| 1108,0) -- (C00011d.north -| 1095,0);
\draw[ed] (R01196.south -| 1129,0) -- (Eb.north -| 1162,0);
\draw[ed] (R01196.south -| 1156,0) -- (C00024.north -| 1238,0);
\draw[ed] (C01326.west |- 0,1331) .. controls (440,1355) and (340,1385) .. (R05704.east |- 0,1424);
\draw[ed] (Ec.south -| 120,0) -- (R05704.north -| 177,0);
\draw[ed] (C00011e.south) -- (R05704.north -| 196,0);
\draw[ed] (R05704.south -| 182,0) -- (Ed.north -| 140,0);
\draw[ed] (R05704.east |- 0,1437) .. controls (290,1447) and (340,1450) .. (395,1460) .. controls (470,1470) and (535,1485) .. (C00037.north -| 576,0);
\draw[ed] (C01242.south) -- (R03425.north -| C01242.south);
\draw[ed] (C00011c.south -| 961,0) .. controls (935,1375) and (890,1395) .. (R03425.east |- 0,1416);
\draw[ed] (R03425.south -| 767,0) -- (C00037.east |- 0,1534);
\draw[ed] (R03425.south) -- (C02051.north -| R03425.south);
\draw[ed] (C00664.south -| 405,0) .. controls (412,1655) and (422,1670) .. (R02729.north -| 430,0);
\draw[ed] (C00037.south -| 579,0) .. controls (550,1650) and (510,1670) .. (R02729.east |- 0,1690);
\draw[ed] (R02729.west |- 0,1721) .. controls (340,1745) and (250,1775) .. (C02718.north -| 209,0);
\draw[ed] (R02729.south -| 453,0) -- (C00101.north -| 471,0);
\draw[ed] (C02718.south -| 168,0) -- (R04026.north -| 168,0);
\draw[ed] (R04026.south -| 165,0) -- (C06195.north -| 160,0);
\draw[ed] (R04026.south -| 186,0) -- (C00001c.north -| 225,0);
\draw[ed] (C06195.east |- 0,2136) -- (R04731.north -| 262,0);
\draw[ed] (C00014b.south -| 328,0) -- (R04731.north -| 305,0);
\draw[ed] (R04731.south -| 284,0) -- (C05239.north -| 265,0);
\draw[ed] (R04731.south -| 307,0) -- (C00001d.north -| 335,0);
\draw[ed] (C05239.south -| 251,0) -- (R04732.north -| 256,0);
\draw[ed] (C00011f.south -| 419,0) .. controls (395,2385) and (350,2405) .. (R04732.east |- 0,2432);
\draw[ed] (R04732.south) -- (C05516.north -| R04732.south);
\draw[ed] (C05516.east |- 0,2632) -- (R04857.north -| 344,0);
\draw[ed] (C00014c.south) -- (R04857.north -| C00014c.south);
\draw[ed] (C00011g.south -| 439,0) -- (R04857.north -| 386,0);
\draw[ed] (R04857.south -| 358,0) -- (C00001e.north -| 336,0);
\draw[ed] (R04857.south -| 379,0) -- (C05515.north -| 403,0);
\draw[ed] (C05515.south) -- (R02141.north -| C05515.south);
\draw[ed] (R02141.south -| 425,0) -- (C00385.north -| 383,0);
\draw[ed] (R02141.south -| 444,0) -- (C00001f.north -| 462,0);
\draw[ed] (C00385.south) -- (R01768.north -| C00385.south);
\draw[ed] (C00080.south -| 241,0) .. controls (255,3205) and (285,3245) .. (R01768.north -| 319,0);
\draw[ed] (C00004.west |- 0,3221) .. controls (480,3245) and (430,3265) .. (R01768.east |- 0,3279);
\draw[ed] (R01768.west |- 0,3307) .. controls (240,3330) and (165,3365) .. (C00001g.north -| 150,0);
\draw[ed] (R01768.south) -- (C00003.north -| R01768.south);
\draw[ed] (R01768.east |- 0,3309) .. controls (450,3335) and (520,3365) .. (C00262.north -| 545,0);
\draw[ed] (C00262.south) -- (R01128.north -| C00262.south);
\draw[ed] (C00117.west |- 0,59) .. controls (760,70) and (520,85) .. (400,108) .. controls (280,130) and (170,165) .. (107,198) .. controls (70,225) and (27,265) .. (27,298) -- (27,3290) .. controls (27,3400) and (30,3490) .. (86,3541) .. controls (130,3575) and (350,3590) .. (R01128.west |- 0,3611);
\draw[ed] (R01049.north -| 1797,0) -- (1795,298) .. controls (1793,240) and (1770,180) .. (1711,147) .. controls (1670,125) and (1600,128) .. (1520,131) .. controls (1470,133) and (1380,140) .. (1331,136) .. controls (1290,136) and (1235,128) .. (C00117.east |- 0,100);
\draw[ed] (R00181.east |- 0,3935) -- (C00020.west |- 0,4029);
\draw[ed] (C00020.east |- 0,4080) -- (R01049.west |- 0,4174);
\draw[ed] (C00119.south -| 1886,0) -- (R01049.north -| 1830,0);
\draw[ed] (R01049.south) -- (C00002.north -| R01049.south);
\draw[ed] (R00181.south) -- (C00001i.north -| R00181.south);
\draw[ed] (C00130.south) -- (R00181.north -| C00130.south);
\draw[ed] (C00014d.south -| 454,0) .. controls (470,3840) and (500,3880) .. (R00181.west |- 0,3905);
\draw[ed] (R01128.south) -- (C00130.north -| R01128.south);
\draw[ed] (R01128.east |- 0,3636) .. controls (660,3665) and (695,3695) .. (C00001h.north -| 705,0);
\end{tikzpicture}
\end{document}
